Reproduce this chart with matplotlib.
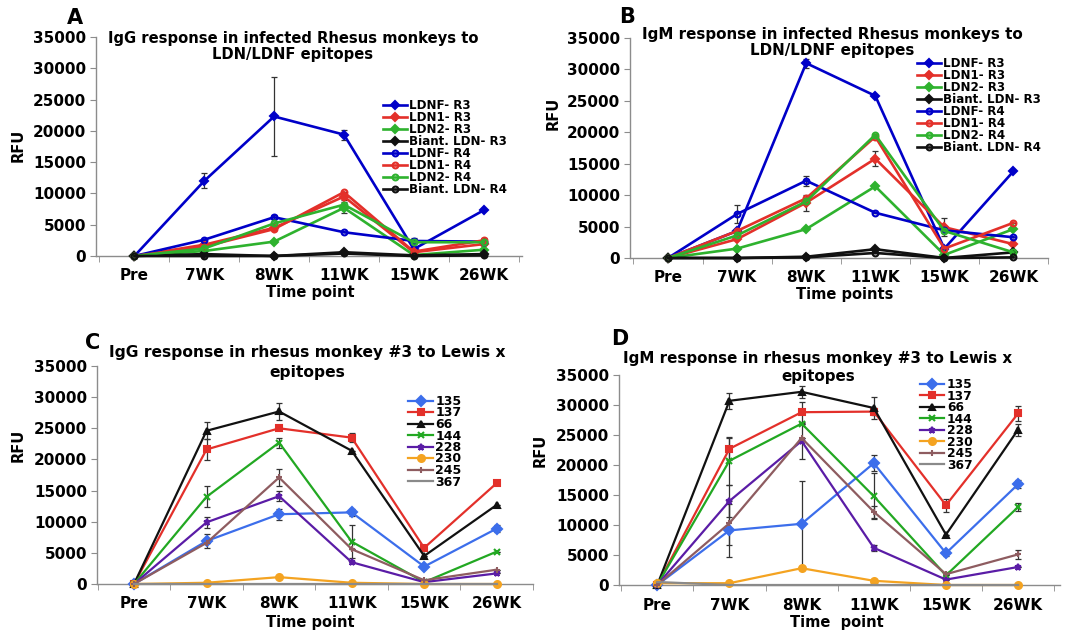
import numpy as np
import matplotlib
matplotlib.use("Agg")
import matplotlib.pyplot as plt

weeks = ["Pre", "7WK", "8WK", "11WK", "15WK", "26WK"]
ldn_labels = ["LDNF- R3", "LDN1- R3", "LDN2- R3", "Biant. LDN- R3",
              "LDNF- R4", "LDN1- R4", "LDN2- R4", "Biant. LDN- R4"]
lex_labels = ["135", "137", "66", "144", "228", "230", "245", "367"]

# Panel A - IgG, LDN/LDNF
igg_ldn = [
    [0, 12000, 22300, 19400, 1100, 7300],
    [0, 1800, 4500, 9500, 600, 1900],
    [0, 800, 2300, 7700, 150, 1000],
    [0, 300, 0, 600, 100, 300],
    [0, 2600, 6200, 3800, 2400, 2300],
    [0, 1500, 4300, 10200, 700, 2500],
    [0, 1200, 5200, 8200, 2200, 2200],
    [0, 0, 0, 400, 0, 100],
]
igg_ldn_err = [
    [0, 1200, 6300, 800, 0, 0],
    [0, 0, 300, 600, 0, 0],
    [0, 0, 0, 900, 0, 0],
    [0, 0, 0, 0, 0, 0],
    [0, 0, 300, 0, 400, 0],
    [0, 0, 0, 0, 0, 300],
    [0, 0, 0, 0, 0, 0],
    [0, 0, 0, 0, 0, 0],
]

# Panel B - IgM, LDN/LDNF
igm_ldn = [
    [0, 4300, 31000, 25800, 1500, 13800],
    [0, 3000, 8800, 15800, 4900, 2200],
    [0, 1500, 4600, 11400, 500, 4600],
    [0, 0, 200, 1400, 0, 900],
    [0, 7000, 12300, 7200, 4400, 3300],
    [0, 4300, 9500, 19300, 1500, 5600],
    [0, 3600, 9000, 19600, 4300, 900],
    [0, 0, 100, 800, 0, 100],
]
igm_ldn_err = [
    [0, 0, 700, 0, 0, 0],
    [0, 0, 1300, 1200, 1400, 0],
    [0, 0, 0, 0, 0, 0],
    [0, 0, 0, 0, 0, 0],
    [0, 1500, 800, 0, 0, 0],
    [0, 0, 0, 0, 0, 0],
    [0, 0, 0, 0, 0, 0],
    [0, 0, 0, 0, 0, 0],
]

# Panel C - IgG, Lewis x
igg_lex = [
    [0, 6900, 11200, 11500, 2800, 8900],
    [0, 21600, 25000, 23500, 5800, 16200],
    [0, 24600, 27700, 21400, 4500, 12700],
    [0, 14000, 22700, 6800, 300, 5200],
    [0, 9900, 14100, 3500, 300, 1700],
    [0, 200, 1100, 200, 0, 0],
    [0, 6600, 17100, 5600, 600, 2300],
    [0, 0, 0, 0, 0, 0],
]
igg_lex_err = [
    [0, 1200, 900, 600, 0, 500],
    [0, 1700, 0, 700, 0, 0],
    [0, 1400, 1300, 0, 0, 0],
    [0, 1700, 800, 2700, 0, 0],
    [0, 900, 800, 0, 0, 0],
    [0, 0, 0, 0, 0, 0],
    [0, 0, 1300, 0, 0, 0],
    [0, 0, 0, 0, 0, 0],
]

# Panel D - IgM, Lewis x
igm_lex = [
    [0, 9100, 10200, 20300, 5300, 16800],
    [0, 22700, 28800, 28900, 13300, 28600],
    [0, 30700, 32200, 29500, 8400, 25900],
    [0, 20700, 26900, 14800, 1600, 13000],
    [0, 14000, 24000, 6200, 900, 3000],
    [300, 300, 2800, 700, 0, 0],
    [0, 10300, 24500, 12200, 1800, 5100],
    [500, 0, 0, 0, 0, 0],
]
igm_lex_err = [
    [0, 4400, 7100, 1300, 500, 700],
    [0, 1800, 1700, 600, 1100, 1300],
    [0, 1300, 1000, 1800, 0, 1000],
    [0, 4000, 0, 3800, 0, 600],
    [0, 2700, 3000, 500, 0, 0],
    [0, 0, 0, 0, 0, 0],
    [0, 3700, 0, 1000, 0, 700],
    [0, 0, 0, 0, 0, 0],
]

W, H = 1067, 634

ldn_colors = ["#0000C8", "#E3302A", "#2EB22E", "#111111"] * 2
ldn_markers = ["D"] * 4 + ["o"] * 4
lex_colors = ["#3C6EEB", "#E3302A", "#111111", "#22A822", "#5A1CA6",
              "#F4A321", "#8E5C60", "#8A8A8A"]
lex_markers = ["D", "s", "^", "x", "*", "o", "+", None]


def px_axes(fig, left, right, top, bottom):
    return fig.add_axes([left / W, 1 - bottom / H, (right - left) / W, (bottom - top) / H])


def style_axes(ax, xlim):
    ax.set_xlim(*xlim)
    ax.set_ylim(0, 35000)
    for s in ["top", "right"]:
        ax.spines[s].set_visible(False)
    for s in ["left", "bottom"]:
        ax.spines[s].set_color("#8c8c8c")
        ax.spines[s].set_linewidth(1.0)
    ax.set_yticks(np.arange(0, 35001, 5000))
    ax.set_xticks(range(len(weeks)))
    ax.set_xticklabels(weeks, fontsize=11, fontweight="bold")
    ax.set_xticks(np.arange(-0.5, len(weeks), 1.0), minor=True)
    ax.tick_params(axis="x", which="major", length=0, pad=9)
    ax.tick_params(axis="x", which="minor", length=4, color="#8c8c8c", direction="out")
    ax.tick_params(axis="y", length=4, color="#8c8c8c", pad=3, labelsize=11)
    for lab in ax.get_yticklabels():
        lab.set_fontweight("bold")


def draw_panel(ax, data, errs, labels, colors, markers, filled_flags, lw, ms):
    x = np.arange(len(weeks))
    for vals, err, lab, c, m, filled in zip(data, errs, labels, colors, markers, filled_flags):
        ax.errorbar(x, vals, yerr=err, fmt="none", ecolor="#333333",
                    elinewidth=0.9, capsize=2.5, capthick=0.9, zorder=2)
        if m is None:
            ax.plot(x, vals, color=c, lw=lw, label=lab, clip_on=False, zorder=3)
            continue
        mfc = c if filled else "none"
        ax.plot(x, vals, color=c, lw=lw, marker=m, ms=ms, mfc=mfc, mec=c,
                mew=1.5, label=lab, clip_on=False, zorder=3)


def put_legend(ax, fig, hx, top, size, spacing):
    ax.legend(loc="upper left", bbox_to_anchor=(hx / W, 1 - top / H),
              bbox_transform=fig.transFigure, frameon=False, borderpad=0,
              borderaxespad=0, handlelength=2.0, handletextpad=0.2,
              labelspacing=spacing, prop={"size": size, "weight": "bold"})


def main():
    fig = plt.figure(figsize=(W / 100, H / 100), dpi=100)
    ldn_filled = [True] * 4 + [False] * 4
    lex_filled = [True] * 8

    # A
    axA = px_axes(fig, 96, 522, 37, 256)
    style_axes(axA, (-0.55, 5.55))
    draw_panel(axA, igg_ldn, igg_ldn_err, ldn_labels, ldn_colors, ldn_markers, ldn_filled, 1.9, 4.2)
    put_legend(axA, fig, 383, 99, 8.6, -0.08)

    # B
    axB = px_axes(fig, 630, 1048, 38, 258)
    style_axes(axB, (-0.55, 5.37))
    draw_panel(axB, igm_ldn, igm_ldn_err, ldn_labels, ldn_colors, ldn_markers, ldn_filled, 1.9, 4.2)
    put_legend(axB, fig, 917, 57, 8.6, -0.08)

    # C
    axC = px_axes(fig, 97, 533, 366, 584)
    style_axes(axC, (-0.51, 5.5))
    draw_panel(axC, igg_lex, igg_lex_err, lex_labels, lex_colors, lex_markers, lex_filled, 1.6, 5)
    put_legend(axC, fig, 408, 395, 9, -0.12)

    # D
    axD = px_axes(fig, 619, 1060, 375, 585)
    style_axes(axD, (-0.53, 5.58))
    draw_panel(axD, igm_lex, igm_lex_err, lex_labels, lex_colors, lex_markers, lex_filled, 1.6, 5)
    put_legend(axD, fig, 920, 378, 8.8, -0.12)

    # titles
    tkw = dict(ha="center", va="center", fontweight="bold")
    fig.text(293 / W, 1 - 38 / H, "IgG response in infected Rhesus monkeys to", fontsize=10.6, **tkw)
    fig.text(293 / W, 1 - 54 / H, "LDN/LDNF epitopes", fontsize=10.6, **tkw)
    fig.text(832 / W, 1 - 35 / H, "IgM response in infected Rhesus monkeys to", fontsize=10.9, **tkw)
    fig.text(832 / W, 1 - 51 / H, "LDN/LDNF epitopes", fontsize=10.9, **tkw)
    fig.text(307 / W, 1 - 353 / H, "IgG response in rhesus monkey #3 to Lewis x", fontsize=11.2, **tkw)
    fig.text(307 / W, 1 - 372 / H, "epitopes", fontsize=11.2, **tkw)
    fig.text(818 / W, 1 - 358 / H, "IgM response in rhesus monkey #3 to Lewis x", fontsize=10.9, **tkw)
    fig.text(818 / W, 1 - 376 / H, "epitopes", fontsize=10.9, **tkw)

    # axis labels
    lkw = dict(ha="center", va="center", fontsize=10.5, fontweight="bold")
    fig.text(310 / W, 1 - 292 / H, "Time point", **lkw)
    fig.text(845 / W, 1 - 295 / H, "Time points", **lkw)
    fig.text(310 / W, 1 - 622 / H, "Time point", **lkw)
    fig.text(837 / W, 1 - 623 / H, "Time  point", **lkw)
    fig.text(18 / W, 1 - 145 / H, "RFU", rotation=90, **lkw)
    fig.text(553 / W, 1 - 113 / H, "RFU", rotation=90, **lkw)
    fig.text(18 / W, 1 - 445 / H, "RFU", rotation=90, **lkw)
    fig.text(540 / W, 1 - 450 / H, "RFU", rotation=90, **lkw)

    # panel letters
    pkw = dict(ha="center", va="center", fontsize=15, fontweight="bold")
    fig.text(75 / W, 1 - 18 / H, "A", **pkw)
    fig.text(627 / W, 1 - 17 / H, "B", **pkw)
    fig.text(93 / W, 1 - 343 / H, "C", **pkw)
    fig.text(620 / W, 1 - 339 / H, "D", **pkw)

    fig.savefig("out.png", dpi=100)


if __name__ == "__main__":
    main()
